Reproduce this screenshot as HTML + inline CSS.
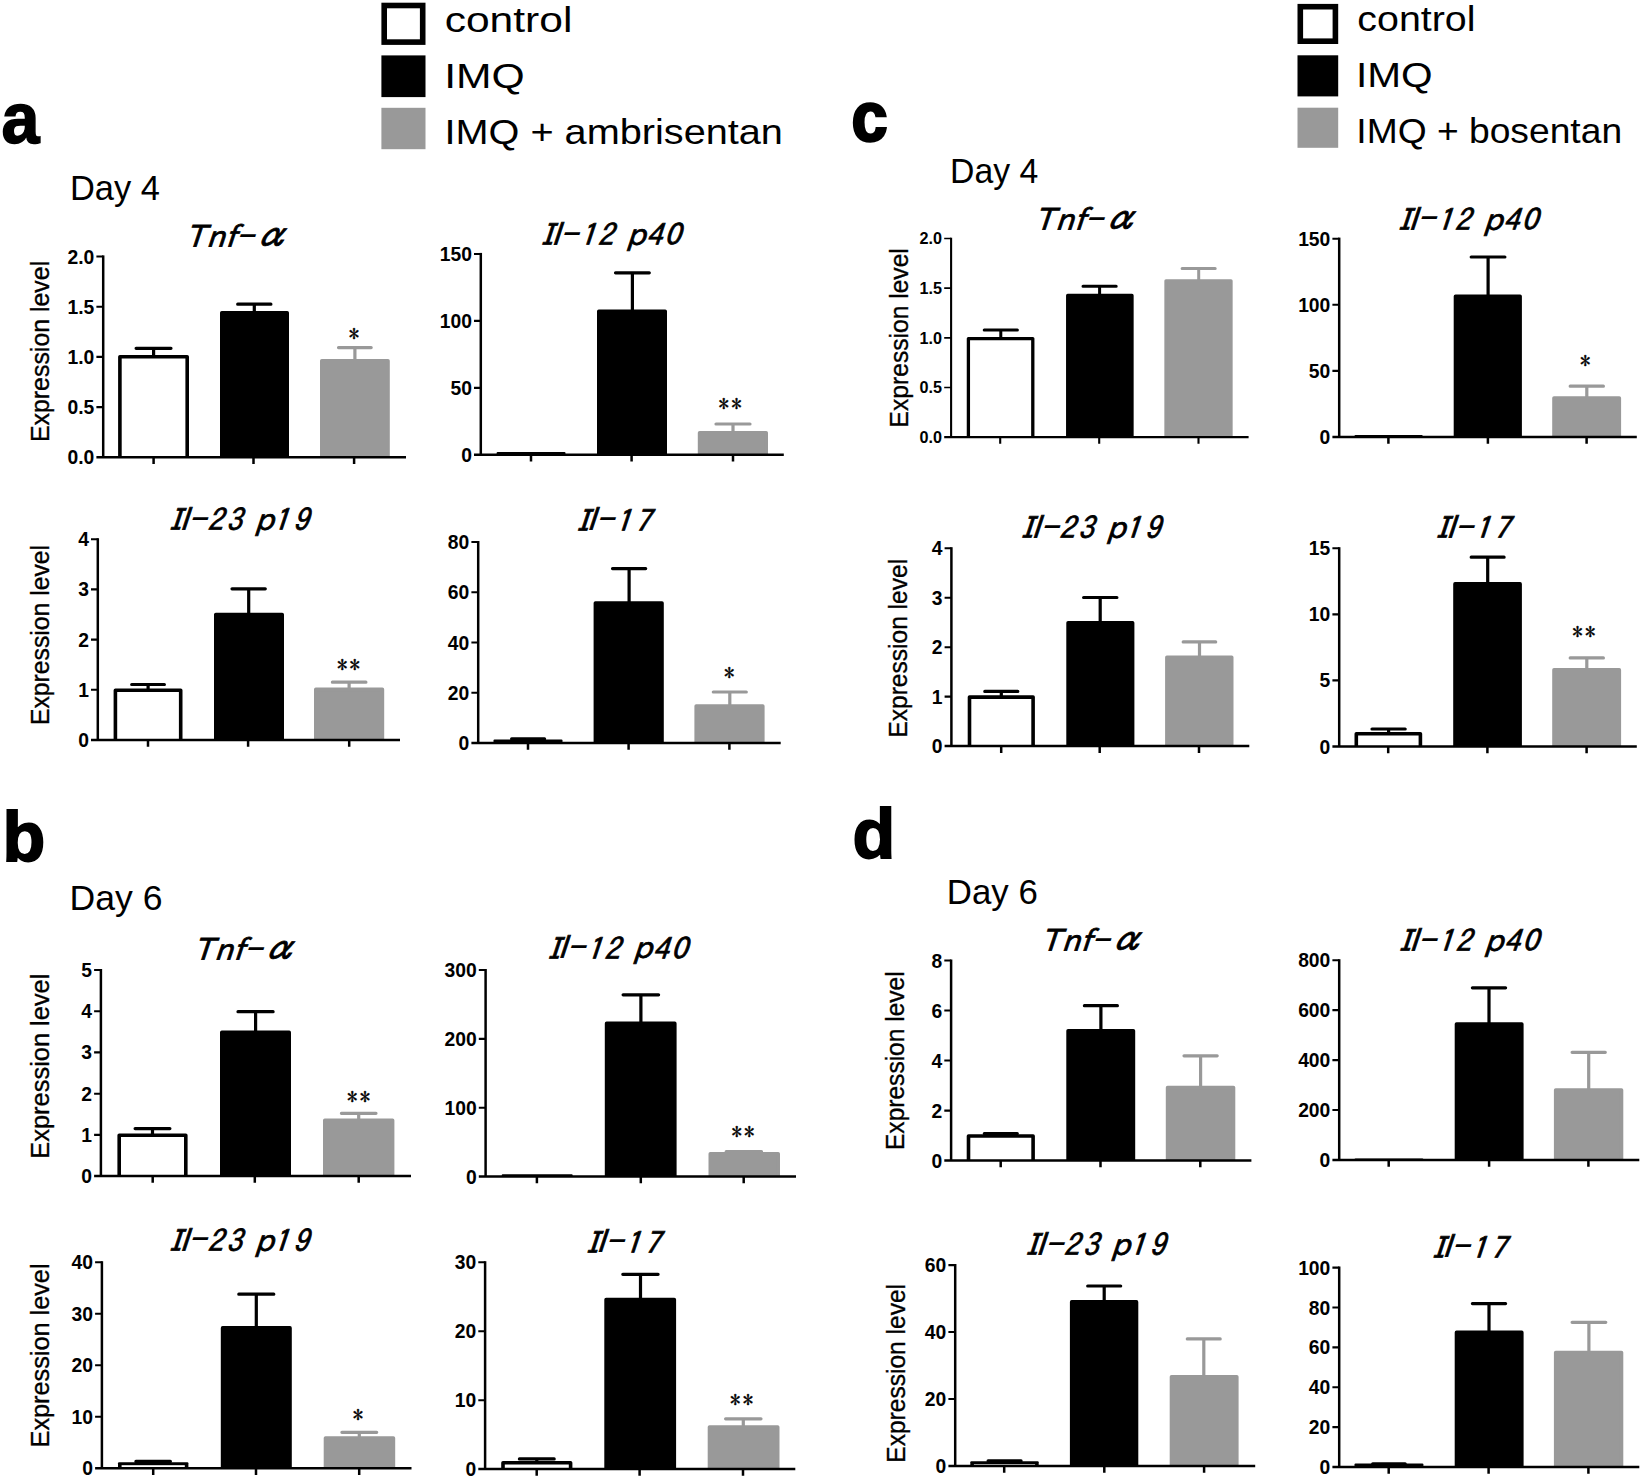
<!DOCTYPE html>
<html lang="en"><head><meta charset="utf-8"><title>Figure</title>
<style>html,body{margin:0;padding:0;background:#fff}svg{display:block}.t{font:italic 30.5px "IPAPGothic","IPAGothic",sans-serif;stroke:#000;stroke-width:.8px}.m{font-family:"IPAGothic","IPAPGothic",sans-serif}.a{font-size:35px}.h{font-family:"IPAGothic","IPAPGothic",sans-serif;font-size:38px;stroke-width:0}.z{font-family:"Noto Sans CJK JP","Liberation Sans",sans-serif;font-size:29.5px}</style></head>
<body>
<svg width="1645" height="1481" viewBox="0 0 1645 1481">
<rect width="1645" height="1481" fill="#fff"/>
<rect x="384.2" y="5.5" width="38.5" height="36.6" fill="#fff" stroke="#000" stroke-width="5.6"/>
<rect x="381.4" y="55.4" width="44.1" height="41.7" fill="#000"/>
<rect x="381.4" y="107.8" width="44.1" height="41.4" fill="#999999"/>
<text x="444.7" y="31.6" font-size="35" text-anchor="start" font-weight="normal" font-style="normal" font-family='"Liberation Sans", sans-serif' textLength="127.7" lengthAdjust="spacingAndGlyphs">control</text>
<text x="444.2" y="87.7" font-size="35" text-anchor="start" font-weight="normal" font-style="normal" font-family='"Liberation Sans", sans-serif' textLength="80.6" lengthAdjust="spacingAndGlyphs">IMQ</text>
<text x="444.5" y="143.6" font-size="35" text-anchor="start" font-weight="normal" font-style="normal" font-family='"Liberation Sans", sans-serif' textLength="338.4" lengthAdjust="spacingAndGlyphs">IMQ + ambrisentan</text>
<rect x="1300.3" y="6.7" width="35.1" height="34.5" fill="#fff" stroke="#000" stroke-width="5.6"/>
<rect x="1297.5" y="55.3" width="40.7" height="41.1" fill="#000"/>
<rect x="1297.5" y="107.7" width="40.7" height="40.1" fill="#999999"/>
<text x="1357.3" y="30.8" font-size="35" text-anchor="start" font-weight="normal" font-style="normal" font-family='"Liberation Sans", sans-serif' textLength="118.2" lengthAdjust="spacingAndGlyphs">control</text>
<text x="1356.0" y="87.1" font-size="35" text-anchor="start" font-weight="normal" font-style="normal" font-family='"Liberation Sans", sans-serif' textLength="76.7" lengthAdjust="spacingAndGlyphs">IMQ</text>
<text x="1356.3" y="142.9" font-size="35" text-anchor="start" font-weight="normal" font-style="normal" font-family='"Liberation Sans", sans-serif' textLength="265.8" lengthAdjust="spacingAndGlyphs">IMQ + bosentan</text>
<text x="1.5" y="142.6" font-size="73" text-anchor="start" font-weight="bold" font-style="normal" font-family='"Liberation Sans", sans-serif' textLength="38.0" lengthAdjust="spacingAndGlyphs" stroke="#000" stroke-width="1.6">a</text>
<text x="2.5" y="860.6" font-size="70" text-anchor="start" font-weight="bold" font-style="normal" font-family='"Liberation Sans", sans-serif' stroke="#000" stroke-width="1.8">b</text>
<text x="851.5" y="140.8" font-size="70" text-anchor="start" font-weight="bold" font-style="normal" font-family='"Liberation Sans", sans-serif' textLength="36.0" lengthAdjust="spacingAndGlyphs" stroke="#000" stroke-width="2.6">c</text>
<text x="852.5" y="858.2" font-size="70" text-anchor="start" font-weight="bold" font-style="normal" font-family='"Liberation Sans", sans-serif' stroke="#000" stroke-width="1.8">d</text>
<text x="69.9" y="200.0" font-size="35" text-anchor="start" font-weight="normal" font-style="normal" font-family='"Liberation Sans", sans-serif' textLength="90.0" lengthAdjust="spacingAndGlyphs">Day 4</text>
<text x="69.6" y="910.3" font-size="35" text-anchor="start" font-weight="normal" font-style="normal" font-family='"Liberation Sans", sans-serif' textLength="93.0" lengthAdjust="spacingAndGlyphs">Day 6</text>
<text x="950.0" y="183.2" font-size="35" text-anchor="start" font-weight="normal" font-style="normal" font-family='"Liberation Sans", sans-serif' textLength="88.2" lengthAdjust="spacingAndGlyphs">Day 4</text>
<text x="946.8" y="904.3" font-size="35" text-anchor="start" font-weight="normal" font-style="normal" font-family='"Liberation Sans", sans-serif' textLength="91.0" lengthAdjust="spacingAndGlyphs">Day 6</text>
<path d="M103.2 457.3V255.4" stroke="#000" stroke-width="2.5" fill="none" stroke-linecap="butt"/>
<text x="94.3" y="464.3" font-size="19.3" text-anchor="end" font-weight="bold" font-style="normal" font-family='"Liberation Sans", sans-serif'>0.0</text>
<text x="94.3" y="414.1" font-size="19.3" text-anchor="end" font-weight="bold" font-style="normal" font-family='"Liberation Sans", sans-serif'>0.5</text>
<text x="94.3" y="363.9" font-size="19.3" text-anchor="end" font-weight="bold" font-style="normal" font-family='"Liberation Sans", sans-serif'>1.0</text>
<text x="94.3" y="313.7" font-size="19.3" text-anchor="end" font-weight="bold" font-style="normal" font-family='"Liberation Sans", sans-serif'>1.5</text>
<text x="94.3" y="263.5" font-size="19.3" text-anchor="end" font-weight="bold" font-style="normal" font-family='"Liberation Sans", sans-serif'>2.0</text>
<path d="M153.6 457.3V464.1M253.5 457.3V464.1M354.1 457.3V464.1" stroke="#000" stroke-width="2.5" fill="none"/>
<path d="M96.4 407.1H103.2M96.4 356.9H103.2M96.4 306.7H103.2M96.4 256.5H103.2" stroke="#000" stroke-width="2.1" fill="none"/>
<path d="M153.6 357.0V348.3M136.1 348.3H171.0" stroke="#000" stroke-width="3.2" stroke-linecap="round" fill="none"/>
<path d="M119.9 457.3V356.8H187.2V457.3" fill="#fff" stroke="#000" stroke-width="3.6" stroke-linejoin="round"/>
<path d="M254.3 313.0V304.2M237.7 304.2H270.9" stroke="#000" stroke-width="3.2" stroke-linecap="round" fill="none"/>
<path d="M221.8 457.3V312.8H287.2V457.3" fill="#000" stroke="#000" stroke-width="3.6" stroke-linejoin="round"/>
<path d="M354.9 361.0V347.6M338.5 347.6H371.2" stroke="#999999" stroke-width="3.2" stroke-linecap="round" fill="none"/>
<path d="M321.8 457.3V360.8H388.0V457.3" fill="#999999" stroke="#999999" stroke-width="3.6" stroke-linejoin="round"/>
<path d="M96.4 457.3H406.0" stroke="#000" stroke-width="2.5" fill="none"/>
<text x="348.8" y="341.7" font-size="21" font-family='"IPAGothic", "Noto Sans CJK JP", sans-serif' stroke="#000" stroke-width="0.3">*</text>
<text class="t" transform="translate(0 246.6) skewX(-4.5) translate(0 -246.6)" x="185.8 206.0 225.3 234.1 253.2" y="246.9 246.9 246.9 249.7 247.2">Tnf<tspan class="h">-</tspan><tspan class="a">α</tspan></text>
<text transform="translate(49.0 442.1) rotate(-90)" font-size="26" font-family='"Liberation Sans", sans-serif' textLength="181.3" lengthAdjust="spacingAndGlyphs" stroke="#000" stroke-width="0.35">Expression level</text>
<path d="M480.8 454.8V252.9" stroke="#000" stroke-width="2.5" fill="none" stroke-linecap="butt"/>
<text x="471.9" y="461.8" font-size="19.3" text-anchor="end" font-weight="bold" font-style="normal" font-family='"Liberation Sans", sans-serif'>0</text>
<text x="471.9" y="394.9" font-size="19.3" text-anchor="end" font-weight="bold" font-style="normal" font-family='"Liberation Sans", sans-serif'>50</text>
<text x="471.9" y="327.9" font-size="19.3" text-anchor="end" font-weight="bold" font-style="normal" font-family='"Liberation Sans", sans-serif'>100</text>
<text x="471.9" y="261.0" font-size="19.3" text-anchor="end" font-weight="bold" font-style="normal" font-family='"Liberation Sans", sans-serif'>150</text>
<path d="M531.0 454.8V461.6M631.6 454.8V461.6M733.0 454.8V461.6" stroke="#000" stroke-width="2.5" fill="none"/>
<path d="M474.0 387.9H480.8M474.0 320.9H480.8M474.0 254.0H480.8" stroke="#000" stroke-width="2.1" fill="none"/>
<rect x="496.6" y="451.9" width="68.9" height="2.9" fill="#000" rx="1"/>
<path d="M632.4 311.5V272.8M615.5 272.8H649.3" stroke="#000" stroke-width="3.2" stroke-linecap="round" fill="none"/>
<path d="M598.8 454.8V311.3H665.2V454.8" fill="#000" stroke="#000" stroke-width="3.6" stroke-linejoin="round"/>
<path d="M733.0 433.0V424.0M716.0 424.0H750.0" stroke="#999999" stroke-width="3.2" stroke-linecap="round" fill="none"/>
<path d="M699.6 454.8V432.8H766.2V454.8" fill="#999999" stroke="#999999" stroke-width="3.6" stroke-linejoin="round"/>
<path d="M474.0 454.8H783.8" stroke="#000" stroke-width="2.5" fill="none"/>
<text x="718.6 731.3" y="412.1" font-size="21" font-family='"IPAGothic", "Noto Sans CJK JP", sans-serif' stroke="#000" stroke-width="0.3">**</text>
<text class="t" transform="translate(0 244.5) skewX(-4.5) translate(0 -244.5)" x="539.0 551.2 558.3 579.4 597.4 616.2 626.3 645.9 664.1" y="246.1 244.8 247.6 246.1 246.1 244.8 244.8 246.1 244.3"><tspan class="m">I</tspan>l<tspan class="h">-</tspan><tspan class="m">12</tspan> p<tspan class="m">4</tspan><tspan class="z">0</tspan></text>
<path d="M97.8 740.0V538.2" stroke="#000" stroke-width="2.5" fill="none" stroke-linecap="butt"/>
<text x="88.9" y="747.0" font-size="19.3" text-anchor="end" font-weight="bold" font-style="normal" font-family='"Liberation Sans", sans-serif'>0</text>
<text x="88.9" y="696.8" font-size="19.3" text-anchor="end" font-weight="bold" font-style="normal" font-family='"Liberation Sans", sans-serif'>1</text>
<text x="88.9" y="646.6" font-size="19.3" text-anchor="end" font-weight="bold" font-style="normal" font-family='"Liberation Sans", sans-serif'>2</text>
<text x="88.9" y="596.4" font-size="19.3" text-anchor="end" font-weight="bold" font-style="normal" font-family='"Liberation Sans", sans-serif'>3</text>
<text x="88.9" y="546.2" font-size="19.3" text-anchor="end" font-weight="bold" font-style="normal" font-family='"Liberation Sans", sans-serif'>4</text>
<path d="M148.0 740.0V746.8M248.1 740.0V746.8M349.2 740.0V746.8" stroke="#000" stroke-width="2.5" fill="none"/>
<path d="M91.0 689.8H97.8M91.0 639.6H97.8M91.0 589.4H97.8M91.0 539.2H97.8" stroke="#000" stroke-width="2.1" fill="none"/>
<path d="M148.1 690.4V684.5M131.7 684.5H164.4" stroke="#000" stroke-width="3.2" stroke-linecap="round" fill="none"/>
<path d="M115.4 740.0V690.2H180.7V740.0" fill="#fff" stroke="#000" stroke-width="3.6" stroke-linejoin="round"/>
<path d="M248.7 614.8V588.8M232.0 588.8H265.3" stroke="#000" stroke-width="3.2" stroke-linecap="round" fill="none"/>
<path d="M215.8 740.0V614.6H282.2V740.0" fill="#000" stroke="#000" stroke-width="3.6" stroke-linejoin="round"/>
<path d="M349.1 689.6V682.2M332.4 682.2H365.9" stroke="#999999" stroke-width="3.2" stroke-linecap="round" fill="none"/>
<path d="M315.8 740.0V689.4H382.4V740.0" fill="#999999" stroke="#999999" stroke-width="3.6" stroke-linejoin="round"/>
<path d="M91.0 740.0H400.0" stroke="#000" stroke-width="2.5" fill="none"/>
<text x="336.9 349.6" y="672.5" font-size="21" font-family='"IPAGothic", "Noto Sans CJK JP", sans-serif' stroke="#000" stroke-width="0.3">**</text>
<text class="t" transform="translate(0 529.6) skewX(-4.5) translate(0 -529.6)" x="167.2 179.5 186.6 207.1 225.9 244.4 254.5 272.7 292.4" y="531.2 529.9 532.7 531.2 531.2 529.9 529.9 531.2 531.2"><tspan class="m">I</tspan>l<tspan class="h">-</tspan><tspan class="m">23</tspan> p<tspan class="m">19</tspan></text>
<text transform="translate(49.0 725.0) rotate(-90)" font-size="26" font-family='"Liberation Sans", sans-serif' textLength="180.0" lengthAdjust="spacingAndGlyphs" stroke="#000" stroke-width="0.35">Expression level</text>
<path d="M478.2 743.0V541.0" stroke="#000" stroke-width="2.5" fill="none" stroke-linecap="butt"/>
<text x="469.3" y="750.0" font-size="19.3" text-anchor="end" font-weight="bold" font-style="normal" font-family='"Liberation Sans", sans-serif'>0</text>
<text x="469.3" y="699.8" font-size="19.3" text-anchor="end" font-weight="bold" font-style="normal" font-family='"Liberation Sans", sans-serif'>20</text>
<text x="469.3" y="649.5" font-size="19.3" text-anchor="end" font-weight="bold" font-style="normal" font-family='"Liberation Sans", sans-serif'>40</text>
<text x="469.3" y="599.3" font-size="19.3" text-anchor="end" font-weight="bold" font-style="normal" font-family='"Liberation Sans", sans-serif'>60</text>
<text x="469.3" y="549.0" font-size="19.3" text-anchor="end" font-weight="bold" font-style="normal" font-family='"Liberation Sans", sans-serif'>80</text>
<path d="M528.0 743.0V749.8M628.6 743.0V749.8M729.4 743.0V749.8" stroke="#000" stroke-width="2.5" fill="none"/>
<path d="M471.4 692.8H478.2M471.4 642.5H478.2M471.4 592.2H478.2M471.4 542.0H478.2" stroke="#000" stroke-width="2.1" fill="none"/>
<path d="M528.1 741.5V738.9M511.6 738.9H544.6" stroke="#000" stroke-width="3.2" stroke-linecap="round" fill="none"/>
<rect x="493.5" y="739.5" width="69.0" height="3.5" fill="#000" rx="1"/>
<path d="M629.1 603.3V568.6M612.5 568.6H645.7" stroke="#000" stroke-width="3.2" stroke-linecap="round" fill="none"/>
<path d="M595.4 743.0V603.1H662.0V743.0" fill="#000" stroke="#000" stroke-width="3.6" stroke-linejoin="round"/>
<path d="M729.8 706.2V692.0M713.3 692.0H746.3" stroke="#999999" stroke-width="3.2" stroke-linecap="round" fill="none"/>
<path d="M696.2 743.0V706.0H762.8V743.0" fill="#999999" stroke="#999999" stroke-width="3.6" stroke-linejoin="round"/>
<path d="M471.4 743.0H780.7" stroke="#000" stroke-width="2.5" fill="none"/>
<text x="724.1" y="681.4" font-size="21" font-family='"IPAGothic", "Noto Sans CJK JP", sans-serif' stroke="#000" stroke-width="0.3">*</text>
<text class="t" transform="translate(0 530.0) skewX(-4.5) translate(0 -530.0)" x="574.6 586.8 593.9 614.9 634.3" y="531.6 530.3 533.1 531.6 531.6"><tspan class="m">I</tspan>l<tspan class="h">-</tspan><tspan class="m">17</tspan></text>
<path d="M100.9 1176.1V969.0" stroke="#000" stroke-width="2.5" fill="none" stroke-linecap="butt"/>
<text x="92.0" y="1183.1" font-size="19.3" text-anchor="end" font-weight="bold" font-style="normal" font-family='"Liberation Sans", sans-serif'>0</text>
<text x="92.0" y="1141.9" font-size="19.3" text-anchor="end" font-weight="bold" font-style="normal" font-family='"Liberation Sans", sans-serif'>1</text>
<text x="92.0" y="1100.7" font-size="19.3" text-anchor="end" font-weight="bold" font-style="normal" font-family='"Liberation Sans", sans-serif'>2</text>
<text x="92.0" y="1059.4" font-size="19.3" text-anchor="end" font-weight="bold" font-style="normal" font-family='"Liberation Sans", sans-serif'>3</text>
<text x="92.0" y="1018.2" font-size="19.3" text-anchor="end" font-weight="bold" font-style="normal" font-family='"Liberation Sans", sans-serif'>4</text>
<text x="92.0" y="977.0" font-size="19.3" text-anchor="end" font-weight="bold" font-style="normal" font-family='"Liberation Sans", sans-serif'>5</text>
<path d="M152.7 1176.1V1182.8M254.8 1176.1V1182.8M358.7 1176.1V1182.8" stroke="#000" stroke-width="2.5" fill="none"/>
<path d="M94.1 1134.9H100.9M94.1 1093.7H100.9M94.1 1052.4H100.9M94.1 1011.2H100.9M94.1 970.0H100.9" stroke="#000" stroke-width="2.1" fill="none"/>
<path d="M152.5 1135.5V1128.6M135.1 1128.6H169.9" stroke="#000" stroke-width="3.2" stroke-linecap="round" fill="none"/>
<path d="M119.2 1176.1V1135.3H185.8V1176.1" fill="#fff" stroke="#000" stroke-width="3.6" stroke-linejoin="round"/>
<path d="M255.6 1032.6V1011.7M238.0 1011.7H273.1" stroke="#000" stroke-width="3.2" stroke-linecap="round" fill="none"/>
<path d="M221.8 1176.1V1032.4H289.2V1176.1" fill="#000" stroke="#000" stroke-width="3.6" stroke-linejoin="round"/>
<path d="M358.7 1120.4V1113.3M341.4 1113.3H376.0" stroke="#999999" stroke-width="3.2" stroke-linecap="round" fill="none"/>
<path d="M324.8 1176.1V1120.2H392.6V1176.1" fill="#999999" stroke="#999999" stroke-width="3.6" stroke-linejoin="round"/>
<path d="M94.1 1176.1H411.0" stroke="#000" stroke-width="2.5" fill="none"/>
<text x="347.1 359.8" y="1105.1" font-size="21" font-family='"IPAGothic", "Noto Sans CJK JP", sans-serif' stroke="#000" stroke-width="0.3">**</text>
<text class="t" transform="translate(0 959.6) skewX(-4.5) translate(0 -959.6)" x="193.8 214.1 233.4 242.2 261.3" y="959.9 959.9 959.9 962.7 960.2">Tnf<tspan class="h">-</tspan><tspan class="a">α</tspan></text>
<text transform="translate(49.0 1158.7) rotate(-90)" font-size="26" font-family='"Liberation Sans", sans-serif' textLength="185.1" lengthAdjust="spacingAndGlyphs" stroke="#000" stroke-width="0.35">Expression level</text>
<path d="M485.6 1176.6V969.0" stroke="#000" stroke-width="2.5" fill="none" stroke-linecap="butt"/>
<text x="476.7" y="1183.6" font-size="19.3" text-anchor="end" font-weight="bold" font-style="normal" font-family='"Liberation Sans", sans-serif'>0</text>
<text x="476.7" y="1114.7" font-size="19.3" text-anchor="end" font-weight="bold" font-style="normal" font-family='"Liberation Sans", sans-serif'>100</text>
<text x="476.7" y="1045.9" font-size="19.3" text-anchor="end" font-weight="bold" font-style="normal" font-family='"Liberation Sans", sans-serif'>200</text>
<text x="476.7" y="977.0" font-size="19.3" text-anchor="end" font-weight="bold" font-style="normal" font-family='"Liberation Sans", sans-serif'>300</text>
<path d="M536.9 1176.6V1183.3M640.8 1176.6V1183.3M743.7 1176.6V1183.3" stroke="#000" stroke-width="2.5" fill="none"/>
<path d="M478.8 1107.7H485.6M478.8 1038.9H485.6M478.8 970.0H485.6" stroke="#000" stroke-width="2.1" fill="none"/>
<rect x="501.7" y="1174.2" width="71.0" height="2.4" fill="#000" rx="1"/>
<path d="M640.9 1023.6V994.8M623.1 994.8H658.6" stroke="#000" stroke-width="3.2" stroke-linecap="round" fill="none"/>
<path d="M606.6 1176.6V1023.4H674.8V1176.6" fill="#000" stroke="#000" stroke-width="3.6" stroke-linejoin="round"/>
<path d="M743.9 1154.0V1151.6M726.2 1151.6H761.5" stroke="#999999" stroke-width="3.2" stroke-linecap="round" fill="none"/>
<path d="M710.3 1176.6V1153.8H778.2V1176.6" fill="#999999" stroke="#999999" stroke-width="3.6" stroke-linejoin="round"/>
<path d="M478.8 1176.6H796.0" stroke="#000" stroke-width="2.5" fill="none"/>
<text x="731.4 744.1" y="1139.5" font-size="21" font-family='"IPAGothic", "Noto Sans CJK JP", sans-serif' stroke="#000" stroke-width="0.3">**</text>
<text class="t" transform="translate(0 958.0) skewX(-4.5) translate(0 -958.0)" x="545.6 557.8 564.9 586.0 604.0 622.8 632.9 652.5 670.7" y="959.6 958.3 961.1 959.6 959.6 958.3 958.3 959.6 957.8"><tspan class="m">I</tspan>l<tspan class="h">-</tspan><tspan class="m">12</tspan> p<tspan class="m">4</tspan><tspan class="z">0</tspan></text>
<path d="M101.9 1468.3V1261.2" stroke="#000" stroke-width="2.5" fill="none" stroke-linecap="butt"/>
<text x="93.0" y="1475.3" font-size="19.3" text-anchor="end" font-weight="bold" font-style="normal" font-family='"Liberation Sans", sans-serif'>0</text>
<text x="93.0" y="1423.8" font-size="19.3" text-anchor="end" font-weight="bold" font-style="normal" font-family='"Liberation Sans", sans-serif'>10</text>
<text x="93.0" y="1372.3" font-size="19.3" text-anchor="end" font-weight="bold" font-style="normal" font-family='"Liberation Sans", sans-serif'>20</text>
<text x="93.0" y="1320.8" font-size="19.3" text-anchor="end" font-weight="bold" font-style="normal" font-family='"Liberation Sans", sans-serif'>30</text>
<text x="93.0" y="1269.3" font-size="19.3" text-anchor="end" font-weight="bold" font-style="normal" font-family='"Liberation Sans", sans-serif'>40</text>
<path d="M153.2 1468.3V1475.0M256.0 1468.3V1475.0M359.2 1468.3V1475.0" stroke="#000" stroke-width="2.5" fill="none"/>
<path d="M95.1 1416.8H101.9M95.1 1365.3H101.9M95.1 1313.8H101.9M95.1 1262.3H101.9" stroke="#000" stroke-width="2.1" fill="none"/>
<path d="M153.2 1464.2V1461.4M135.9 1461.4H170.4" stroke="#000" stroke-width="3.2" stroke-linecap="round" fill="none"/>
<rect x="118.0" y="1462.2" width="70.4" height="6.1" fill="#000" rx="1"/>
<rect x="121.6" y="1465.2" width="63.2" height="2.1" fill="#fff"/>
<path d="M256.3 1328.1V1294.2M238.8 1294.2H273.8" stroke="#000" stroke-width="3.2" stroke-linecap="round" fill="none"/>
<path d="M222.6 1468.3V1327.9H290.0V1468.3" fill="#000" stroke="#000" stroke-width="3.6" stroke-linejoin="round"/>
<path d="M359.3 1438.2V1432.3M341.9 1432.3H376.7" stroke="#999999" stroke-width="3.2" stroke-linecap="round" fill="none"/>
<path d="M325.5 1468.3V1438.0H393.4V1468.3" fill="#999999" stroke="#999999" stroke-width="3.6" stroke-linejoin="round"/>
<path d="M95.1 1468.3H411.5" stroke="#000" stroke-width="2.5" fill="none"/>
<text x="352.8" y="1423.1" font-size="21" font-family='"IPAGothic", "Noto Sans CJK JP", sans-serif' stroke="#000" stroke-width="0.3">*</text>
<text class="t" transform="translate(0 1250.3) skewX(-4.5) translate(0 -1250.3)" x="167.2 179.5 186.6 207.1 225.9 244.4 254.5 272.7 292.4" y="1251.9 1250.6 1253.4 1251.9 1251.9 1250.6 1250.6 1251.9 1251.9"><tspan class="m">I</tspan>l<tspan class="h">-</tspan><tspan class="m">23</tspan> p<tspan class="m">19</tspan></text>
<text transform="translate(49.0 1447.4) rotate(-90)" font-size="26" font-family='"Liberation Sans", sans-serif' textLength="183.9" lengthAdjust="spacingAndGlyphs" stroke="#000" stroke-width="0.35">Expression level</text>
<path d="M485.1 1469.1V1261.2" stroke="#000" stroke-width="2.5" fill="none" stroke-linecap="butt"/>
<text x="476.2" y="1476.1" font-size="19.3" text-anchor="end" font-weight="bold" font-style="normal" font-family='"Liberation Sans", sans-serif'>0</text>
<text x="476.2" y="1407.2" font-size="19.3" text-anchor="end" font-weight="bold" font-style="normal" font-family='"Liberation Sans", sans-serif'>10</text>
<text x="476.2" y="1338.2" font-size="19.3" text-anchor="end" font-weight="bold" font-style="normal" font-family='"Liberation Sans", sans-serif'>20</text>
<text x="476.2" y="1269.3" font-size="19.3" text-anchor="end" font-weight="bold" font-style="normal" font-family='"Liberation Sans", sans-serif'>30</text>
<path d="M536.7 1469.1V1475.8M639.6 1469.1V1475.8M743.0 1469.1V1475.8" stroke="#000" stroke-width="2.5" fill="none"/>
<path d="M478.3 1400.2H485.1M478.3 1331.2H485.1M478.3 1262.3H485.1" stroke="#000" stroke-width="2.1" fill="none"/>
<path d="M536.8 1462.9V1458.9M519.4 1458.9H554.2" stroke="#000" stroke-width="3.2" stroke-linecap="round" fill="none"/>
<path d="M503.0 1469.1V1462.7H570.6V1469.1" fill="#fff" stroke="#000" stroke-width="3.6" stroke-linejoin="round"/>
<path d="M640.5 1299.8V1274.3M622.8 1274.3H658.1" stroke="#000" stroke-width="3.2" stroke-linecap="round" fill="none"/>
<path d="M606.1 1469.1V1299.6H674.3V1469.1" fill="#000" stroke="#000" stroke-width="3.6" stroke-linejoin="round"/>
<path d="M743.3 1427.2V1418.8M725.6 1418.8H761.0" stroke="#999999" stroke-width="3.2" stroke-linecap="round" fill="none"/>
<path d="M709.5 1469.1V1427.0H777.7V1469.1" fill="#999999" stroke="#999999" stroke-width="3.6" stroke-linejoin="round"/>
<path d="M478.3 1469.1H795.3" stroke="#000" stroke-width="2.5" fill="none"/>
<text x="730.1 742.8" y="1408.1" font-size="21" font-family='"IPAGothic", "Noto Sans CJK JP", sans-serif' stroke="#000" stroke-width="0.3">**</text>
<text class="t" transform="translate(0 1252.0) skewX(-4.5) translate(0 -1252.0)" x="584.1 596.3 603.4 624.4 643.8" y="1253.6 1252.3 1255.1 1253.6 1253.6"><tspan class="m">I</tspan>l<tspan class="h">-</tspan><tspan class="m">17</tspan></text>
<path d="M951.1 437.1V237.7" stroke="#000" stroke-width="2.1" fill="none" stroke-linecap="butt"/>
<text x="942.1" y="443.0" font-size="16.2" text-anchor="end" font-weight="bold" font-style="normal" font-family='"Liberation Sans", sans-serif'>0.0</text>
<text x="942.1" y="393.3" font-size="16.2" text-anchor="end" font-weight="bold" font-style="normal" font-family='"Liberation Sans", sans-serif'>0.5</text>
<text x="942.1" y="343.7" font-size="16.2" text-anchor="end" font-weight="bold" font-style="normal" font-family='"Liberation Sans", sans-serif'>1.0</text>
<text x="942.1" y="294.0" font-size="16.2" text-anchor="end" font-weight="bold" font-style="normal" font-family='"Liberation Sans", sans-serif'>1.5</text>
<text x="942.1" y="244.4" font-size="16.2" text-anchor="end" font-weight="bold" font-style="normal" font-family='"Liberation Sans", sans-serif'>2.0</text>
<path d="M1000.2 437.1V443.7M1099.2 437.1V443.7M1198.5 437.1V443.7" stroke="#000" stroke-width="2.1" fill="none"/>
<path d="M944.2 387.5H951.1M944.2 337.8H951.1M944.2 288.1H951.1M944.2 238.5H951.1" stroke="#000" stroke-width="1.7" fill="none"/>
<path d="M1000.8 339.0V329.9M984.2 329.9H1017.4" stroke="#000" stroke-width="3.0" stroke-linecap="round" fill="none"/>
<path d="M968.4 437.1V338.6H1032.8V437.1" fill="#fff" stroke="#000" stroke-width="3.3" stroke-linejoin="round"/>
<path d="M1099.6 295.9V286.2M1083.0 286.2H1116.2" stroke="#000" stroke-width="3.0" stroke-linecap="round" fill="none"/>
<path d="M1067.7 437.1V295.5H1132.0V437.1" fill="#000" stroke="#000" stroke-width="3.3" stroke-linejoin="round"/>
<path d="M1198.7 281.1V268.4M1182.1 268.4H1215.2" stroke="#999999" stroke-width="3.0" stroke-linecap="round" fill="none"/>
<path d="M1166.0 437.1V280.8H1231.0V437.1" fill="#999999" stroke="#999999" stroke-width="3.3" stroke-linejoin="round"/>
<path d="M944.2 437.1H1248.6" stroke="#000" stroke-width="2.1" fill="none"/>
<text class="t" transform="translate(0 229.6) skewX(-4.5) translate(0 -229.6)" x="1034.7 1055.0 1074.3 1083.1 1102.2" y="229.9 229.9 229.9 232.7 230.2">Tnf<tspan class="h">-</tspan><tspan class="a">α</tspan></text>
<text transform="translate(907.7 427.4) rotate(-90)" font-size="26" font-family='"Liberation Sans", sans-serif' textLength="179.2" lengthAdjust="spacingAndGlyphs" stroke="#000" stroke-width="0.35">Expression level</text>
<path d="M1339.2 437.0V237.6" stroke="#000" stroke-width="2.5" fill="none" stroke-linecap="butt"/>
<text x="1330.3" y="444.0" font-size="19.3" text-anchor="end" font-weight="bold" font-style="normal" font-family='"Liberation Sans", sans-serif'>0</text>
<text x="1330.3" y="377.9" font-size="19.3" text-anchor="end" font-weight="bold" font-style="normal" font-family='"Liberation Sans", sans-serif'>50</text>
<text x="1330.3" y="311.8" font-size="19.3" text-anchor="end" font-weight="bold" font-style="normal" font-family='"Liberation Sans", sans-serif'>100</text>
<text x="1330.3" y="245.7" font-size="19.3" text-anchor="end" font-weight="bold" font-style="normal" font-family='"Liberation Sans", sans-serif'>150</text>
<path d="M1388.4 437.0V443.8M1487.9 437.0V443.8M1586.6 437.0V443.8" stroke="#000" stroke-width="2.5" fill="none"/>
<path d="M1332.4 370.9H1339.2M1332.4 304.8H1339.2M1332.4 238.7H1339.2" stroke="#000" stroke-width="2.1" fill="none"/>
<rect x="1354.5" y="435.0" width="68.2" height="2.0" fill="#000" rx="1"/>
<path d="M1488.1 296.4V257.0M1471.2 257.0H1504.9" stroke="#000" stroke-width="3.2" stroke-linecap="round" fill="none"/>
<path d="M1455.5 437.0V296.2H1520.1V437.0" fill="#000" stroke="#000" stroke-width="3.6" stroke-linejoin="round"/>
<path d="M1586.8 398.3V386.2M1570.2 386.2H1603.4" stroke="#999999" stroke-width="3.2" stroke-linecap="round" fill="none"/>
<path d="M1554.0 437.0V398.1H1619.3V437.0" fill="#999999" stroke="#999999" stroke-width="3.6" stroke-linejoin="round"/>
<path d="M1332.4 437.0H1636.8" stroke="#000" stroke-width="2.5" fill="none"/>
<text x="1580.0" y="368.7" font-size="21" font-family='"IPAGothic", "Noto Sans CJK JP", sans-serif' stroke="#000" stroke-width="0.3">*</text>
<text class="t" transform="translate(0 229.4) skewX(-4.5) translate(0 -229.4)" x="1396.1 1408.3 1415.4 1436.5 1454.5 1473.3 1483.4 1503.0 1521.2" y="231.0 229.7 232.5 231.0 231.0 229.7 229.7 231.0 229.2"><tspan class="m">I</tspan>l<tspan class="h">-</tspan><tspan class="m">12</tspan> p<tspan class="m">4</tspan><tspan class="z">0</tspan></text>
<path d="M951.4 746.1V547.2" stroke="#000" stroke-width="2.5" fill="none" stroke-linecap="butt"/>
<text x="942.5" y="753.1" font-size="19.3" text-anchor="end" font-weight="bold" font-style="normal" font-family='"Liberation Sans", sans-serif'>0</text>
<text x="942.5" y="703.6" font-size="19.3" text-anchor="end" font-weight="bold" font-style="normal" font-family='"Liberation Sans", sans-serif'>1</text>
<text x="942.5" y="654.2" font-size="19.3" text-anchor="end" font-weight="bold" font-style="normal" font-family='"Liberation Sans", sans-serif'>2</text>
<text x="942.5" y="604.7" font-size="19.3" text-anchor="end" font-weight="bold" font-style="normal" font-family='"Liberation Sans", sans-serif'>3</text>
<text x="942.5" y="555.2" font-size="19.3" text-anchor="end" font-weight="bold" font-style="normal" font-family='"Liberation Sans", sans-serif'>4</text>
<path d="M1001.2 746.1V752.9M1099.7 746.1V752.9M1199.0 746.1V752.9" stroke="#000" stroke-width="2.5" fill="none"/>
<path d="M944.6 696.6H951.4M944.6 647.2H951.4M944.6 597.7H951.4M944.6 548.2H951.4" stroke="#000" stroke-width="2.1" fill="none"/>
<path d="M1001.3 697.3V691.4M984.8 691.4H1017.8" stroke="#000" stroke-width="3.2" stroke-linecap="round" fill="none"/>
<path d="M969.5 746.1V697.1H1033.1V746.1" fill="#fff" stroke="#000" stroke-width="3.6" stroke-linejoin="round"/>
<path d="M1100.2 623.0V597.5M1083.6 597.5H1116.9" stroke="#000" stroke-width="3.2" stroke-linecap="round" fill="none"/>
<path d="M1068.1 746.1V622.8H1132.6V746.1" fill="#000" stroke="#000" stroke-width="3.6" stroke-linejoin="round"/>
<path d="M1199.5 657.5V641.9M1183.2 641.9H1215.7" stroke="#999999" stroke-width="3.2" stroke-linecap="round" fill="none"/>
<path d="M1166.9 746.1V657.3H1231.7V746.1" fill="#999999" stroke="#999999" stroke-width="3.6" stroke-linejoin="round"/>
<path d="M944.6 746.1H1249.3" stroke="#000" stroke-width="2.5" fill="none"/>
<text class="t" transform="translate(0 537.7) skewX(-4.5) translate(0 -537.7)" x="1019.0 1031.3 1038.4 1058.9 1077.7 1096.2 1106.3 1124.5 1144.2" y="539.3 538.0 540.8 539.3 539.3 538.0 538.0 539.3 539.3"><tspan class="m">I</tspan>l<tspan class="h">-</tspan><tspan class="m">23</tspan> p<tspan class="m">19</tspan></text>
<text transform="translate(907.2 737.6) rotate(-90)" font-size="26" font-family='"Liberation Sans", sans-serif' textLength="178.7" lengthAdjust="spacingAndGlyphs" stroke="#000" stroke-width="0.35">Expression level</text>
<path d="M1339.2 746.5V547.2" stroke="#000" stroke-width="2.5" fill="none" stroke-linecap="butt"/>
<text x="1330.3" y="753.5" font-size="19.3" text-anchor="end" font-weight="bold" font-style="normal" font-family='"Liberation Sans", sans-serif'>0</text>
<text x="1330.3" y="687.4" font-size="19.3" text-anchor="end" font-weight="bold" font-style="normal" font-family='"Liberation Sans", sans-serif'>5</text>
<text x="1330.3" y="621.4" font-size="19.3" text-anchor="end" font-weight="bold" font-style="normal" font-family='"Liberation Sans", sans-serif'>10</text>
<text x="1330.3" y="555.3" font-size="19.3" text-anchor="end" font-weight="bold" font-style="normal" font-family='"Liberation Sans", sans-serif'>15</text>
<path d="M1388.2 746.5V753.2M1487.4 746.5V753.2M1586.6 746.5V753.2" stroke="#000" stroke-width="2.5" fill="none"/>
<path d="M1332.4 680.4H1339.2M1332.4 614.4H1339.2M1332.4 548.3H1339.2" stroke="#000" stroke-width="2.1" fill="none"/>
<path d="M1388.6 734.0V729.0M1372.0 729.0H1405.2" stroke="#000" stroke-width="3.2" stroke-linecap="round" fill="none"/>
<path d="M1356.3 746.5V733.8H1420.4V746.5" fill="#fff" stroke="#000" stroke-width="3.6" stroke-linejoin="round"/>
<path d="M1487.7 584.1V557.2M1471.2 557.2H1504.1" stroke="#000" stroke-width="3.2" stroke-linecap="round" fill="none"/>
<path d="M1455.0 746.5V583.9H1520.1V746.5" fill="#000" stroke="#000" stroke-width="3.6" stroke-linejoin="round"/>
<path d="M1586.8 670.0V657.9M1570.2 657.9H1603.4" stroke="#999999" stroke-width="3.2" stroke-linecap="round" fill="none"/>
<path d="M1554.0 746.5V669.8H1619.3V746.5" fill="#999999" stroke="#999999" stroke-width="3.6" stroke-linejoin="round"/>
<path d="M1332.4 746.5H1636.8" stroke="#000" stroke-width="2.5" fill="none"/>
<text x="1572.3 1585.0" y="640.4" font-size="21" font-family='"IPAGothic", "Noto Sans CJK JP", sans-serif' stroke="#000" stroke-width="0.3">**</text>
<text class="t" transform="translate(0 537.5) skewX(-4.5) translate(0 -537.5)" x="1433.8 1446.0 1453.1 1474.1 1493.5" y="539.1 537.8 540.6 539.1 539.1"><tspan class="m">I</tspan>l<tspan class="h">-</tspan><tspan class="m">17</tspan></text>
<path d="M951.1 1160.6V959.5" stroke="#000" stroke-width="2.5" fill="none" stroke-linecap="butt"/>
<text x="942.2" y="1167.6" font-size="19.3" text-anchor="end" font-weight="bold" font-style="normal" font-family='"Liberation Sans", sans-serif'>0</text>
<text x="942.2" y="1117.6" font-size="19.3" text-anchor="end" font-weight="bold" font-style="normal" font-family='"Liberation Sans", sans-serif'>2</text>
<text x="942.2" y="1067.6" font-size="19.3" text-anchor="end" font-weight="bold" font-style="normal" font-family='"Liberation Sans", sans-serif'>4</text>
<text x="942.2" y="1017.5" font-size="19.3" text-anchor="end" font-weight="bold" font-style="normal" font-family='"Liberation Sans", sans-serif'>6</text>
<text x="942.2" y="967.5" font-size="19.3" text-anchor="end" font-weight="bold" font-style="normal" font-family='"Liberation Sans", sans-serif'>8</text>
<path d="M1000.7 1160.6V1167.3M1100.5 1160.6V1167.3M1200.3 1160.6V1167.3" stroke="#000" stroke-width="2.5" fill="none"/>
<path d="M944.3 1110.6H951.1M944.3 1060.5H951.1M944.3 1010.5H951.1M944.3 960.5H951.1" stroke="#000" stroke-width="2.1" fill="none"/>
<path d="M1000.8 1136.2V1133.6M984.3 1133.6H1017.3" stroke="#000" stroke-width="3.2" stroke-linecap="round" fill="none"/>
<path d="M968.5 1160.6V1136.0H1033.1V1160.6" fill="#fff" stroke="#000" stroke-width="3.6" stroke-linejoin="round"/>
<path d="M1100.9 1031.0V1005.7M1084.4 1005.7H1117.4" stroke="#000" stroke-width="3.2" stroke-linecap="round" fill="none"/>
<path d="M1068.1 1160.6V1030.8H1133.4V1160.6" fill="#000" stroke="#000" stroke-width="3.6" stroke-linejoin="round"/>
<path d="M1200.6 1087.7V1055.8M1184.0 1055.8H1217.2" stroke="#999999" stroke-width="3.2" stroke-linecap="round" fill="none"/>
<path d="M1167.6 1160.6V1087.5H1233.5V1160.6" fill="#999999" stroke="#999999" stroke-width="3.6" stroke-linejoin="round"/>
<path d="M944.3 1160.6H1251.4" stroke="#000" stroke-width="2.5" fill="none"/>
<text class="t" transform="translate(0 950.8) skewX(-4.5) translate(0 -950.8)" x="1041.0 1061.3 1080.6 1089.4 1108.5" y="951.1 951.1 951.1 953.9 951.4">Tnf<tspan class="h">-</tspan><tspan class="a">α</tspan></text>
<text transform="translate(903.9 1150.0) rotate(-90)" font-size="26" font-family='"Liberation Sans", sans-serif' textLength="178.7" lengthAdjust="spacingAndGlyphs" stroke="#000" stroke-width="0.35">Expression level</text>
<path d="M1339.2 1159.9V959.2" stroke="#000" stroke-width="2.5" fill="none" stroke-linecap="butt"/>
<text x="1330.3" y="1166.9" font-size="19.3" text-anchor="end" font-weight="bold" font-style="normal" font-family='"Liberation Sans", sans-serif'>0</text>
<text x="1330.3" y="1117.0" font-size="19.3" text-anchor="end" font-weight="bold" font-style="normal" font-family='"Liberation Sans", sans-serif'>200</text>
<text x="1330.3" y="1067.1" font-size="19.3" text-anchor="end" font-weight="bold" font-style="normal" font-family='"Liberation Sans", sans-serif'>400</text>
<text x="1330.3" y="1017.1" font-size="19.3" text-anchor="end" font-weight="bold" font-style="normal" font-family='"Liberation Sans", sans-serif'>600</text>
<text x="1330.3" y="967.2" font-size="19.3" text-anchor="end" font-weight="bold" font-style="normal" font-family='"Liberation Sans", sans-serif'>800</text>
<path d="M1388.7 1159.9V1166.7M1489.1 1159.9V1166.7M1588.4 1159.9V1166.7" stroke="#000" stroke-width="2.5" fill="none"/>
<path d="M1332.4 1110.0H1339.2M1332.4 1060.1H1339.2M1332.4 1010.1H1339.2M1332.4 960.2H1339.2" stroke="#000" stroke-width="2.1" fill="none"/>
<rect x="1354.5" y="1158.4" width="68.9" height="1.5" fill="#000" rx="1"/>
<path d="M1489.0 1024.2V987.8M1472.4 987.8H1505.6" stroke="#000" stroke-width="3.2" stroke-linecap="round" fill="none"/>
<path d="M1456.5 1159.9V1024.0H1521.8V1159.9" fill="#000" stroke="#000" stroke-width="3.6" stroke-linejoin="round"/>
<path d="M1588.7 1090.2V1052.3M1572.1 1052.3H1605.3" stroke="#999999" stroke-width="3.2" stroke-linecap="round" fill="none"/>
<path d="M1555.7 1159.9V1090.0H1621.5V1159.9" fill="#999999" stroke="#999999" stroke-width="3.6" stroke-linejoin="round"/>
<path d="M1332.4 1159.9H1639.3" stroke="#000" stroke-width="2.5" fill="none"/>
<text class="t" transform="translate(0 950.6) skewX(-4.5) translate(0 -950.6)" x="1396.8 1409.0 1416.1 1437.2 1455.2 1474.0 1484.1 1503.7 1521.9" y="952.2 950.9 953.7 952.2 952.2 950.9 950.9 952.2 950.4"><tspan class="m">I</tspan>l<tspan class="h">-</tspan><tspan class="m">12</tspan> p<tspan class="m">4</tspan><tspan class="z">0</tspan></text>
<path d="M955.2 1466.0V1264.0" stroke="#000" stroke-width="2.5" fill="none" stroke-linecap="butt"/>
<text x="946.3" y="1473.0" font-size="19.3" text-anchor="end" font-weight="bold" font-style="normal" font-family='"Liberation Sans", sans-serif'>0</text>
<text x="946.3" y="1406.0" font-size="19.3" text-anchor="end" font-weight="bold" font-style="normal" font-family='"Liberation Sans", sans-serif'>20</text>
<text x="946.3" y="1339.1" font-size="19.3" text-anchor="end" font-weight="bold" font-style="normal" font-family='"Liberation Sans", sans-serif'>40</text>
<text x="946.3" y="1272.1" font-size="19.3" text-anchor="end" font-weight="bold" font-style="normal" font-family='"Liberation Sans", sans-serif'>60</text>
<path d="M1004.2 1466.0V1472.7M1104.3 1466.0V1472.7M1204.1 1466.0V1472.7" stroke="#000" stroke-width="2.5" fill="none"/>
<path d="M948.4 1399.0H955.2M948.4 1332.0H955.2M948.4 1265.1H955.2" stroke="#000" stroke-width="2.1" fill="none"/>
<path d="M1004.6 1463.2V1460.9M988.1 1460.9H1021.1" stroke="#000" stroke-width="3.2" stroke-linecap="round" fill="none"/>
<rect x="970.3" y="1461.2" width="68.4" height="4.8" fill="#000" rx="1"/>
<rect x="973.9" y="1464.2" width="61.2" height="0.8" fill="#fff"/>
<path d="M1104.2 1302.1V1286.0M1087.7 1286.0H1120.7" stroke="#000" stroke-width="3.2" stroke-linecap="round" fill="none"/>
<path d="M1071.7 1466.0V1301.9H1136.5V1466.0" fill="#000" stroke="#000" stroke-width="3.6" stroke-linejoin="round"/>
<path d="M1203.8 1376.9V1338.9M1187.3 1338.9H1220.2" stroke="#999999" stroke-width="3.2" stroke-linecap="round" fill="none"/>
<path d="M1171.5 1466.0V1376.7H1236.8V1466.0" fill="#999999" stroke="#999999" stroke-width="3.6" stroke-linejoin="round"/>
<path d="M948.4 1466.0H1255.2" stroke="#000" stroke-width="2.5" fill="none"/>
<text class="t" transform="translate(0 1254.6) skewX(-4.5) translate(0 -1254.6)" x="1023.6 1035.9 1043.0 1063.5 1082.3 1100.8 1110.9 1129.1 1148.8" y="1256.2 1254.9 1257.7 1256.2 1256.2 1254.9 1254.9 1256.2 1256.2"><tspan class="m">I</tspan>l<tspan class="h">-</tspan><tspan class="m">23</tspan> p<tspan class="m">19</tspan></text>
<text transform="translate(904.6 1462.7) rotate(-90)" font-size="26" font-family='"Liberation Sans", sans-serif' textLength="178.7" lengthAdjust="spacingAndGlyphs" stroke="#000" stroke-width="0.35">Expression level</text>
<path d="M1339.2 1467.0V1266.5" stroke="#000" stroke-width="2.5" fill="none" stroke-linecap="butt"/>
<text x="1330.3" y="1474.0" font-size="19.3" text-anchor="end" font-weight="bold" font-style="normal" font-family='"Liberation Sans", sans-serif'>0</text>
<text x="1330.3" y="1434.1" font-size="19.3" text-anchor="end" font-weight="bold" font-style="normal" font-family='"Liberation Sans", sans-serif'>20</text>
<text x="1330.3" y="1394.2" font-size="19.3" text-anchor="end" font-weight="bold" font-style="normal" font-family='"Liberation Sans", sans-serif'>40</text>
<text x="1330.3" y="1354.4" font-size="19.3" text-anchor="end" font-weight="bold" font-style="normal" font-family='"Liberation Sans", sans-serif'>60</text>
<text x="1330.3" y="1314.5" font-size="19.3" text-anchor="end" font-weight="bold" font-style="normal" font-family='"Liberation Sans", sans-serif'>80</text>
<text x="1330.3" y="1274.6" font-size="19.3" text-anchor="end" font-weight="bold" font-style="normal" font-family='"Liberation Sans", sans-serif'>100</text>
<path d="M1388.7 1467.0V1473.8M1488.6 1467.0V1473.8M1588.4 1467.0V1473.8" stroke="#000" stroke-width="2.5" fill="none"/>
<path d="M1332.4 1427.1H1339.2M1332.4 1387.2H1339.2M1332.4 1347.4H1339.2M1332.4 1307.5H1339.2M1332.4 1267.6H1339.2" stroke="#000" stroke-width="2.1" fill="none"/>
<path d="M1389.0 1465.6V1463.8M1372.7 1463.8H1405.2" stroke="#000" stroke-width="3.2" stroke-linecap="round" fill="none"/>
<rect x="1354.5" y="1463.6" width="68.9" height="3.4" fill="#000" rx="1"/>
<path d="M1489.0 1332.6V1303.6M1472.4 1303.6H1505.6" stroke="#000" stroke-width="3.2" stroke-linecap="round" fill="none"/>
<path d="M1456.5 1467.0V1332.4H1521.8V1467.0" fill="#000" stroke="#000" stroke-width="3.6" stroke-linejoin="round"/>
<path d="M1588.9 1352.8V1322.3M1572.1 1322.3H1605.8" stroke="#999999" stroke-width="3.2" stroke-linecap="round" fill="none"/>
<path d="M1555.7 1467.0V1352.6H1621.5V1467.0" fill="#999999" stroke="#999999" stroke-width="3.6" stroke-linejoin="round"/>
<path d="M1332.4 1467.0H1639.3" stroke="#000" stroke-width="2.5" fill="none"/>
<text class="t" transform="translate(0 1257.0) skewX(-4.5) translate(0 -1257.0)" x="1430.1 1442.3 1449.4 1470.4 1489.8" y="1258.6 1257.3 1260.1 1258.6 1258.6"><tspan class="m">I</tspan>l<tspan class="h">-</tspan><tspan class="m">17</tspan></text>
</svg>
</body></html>
